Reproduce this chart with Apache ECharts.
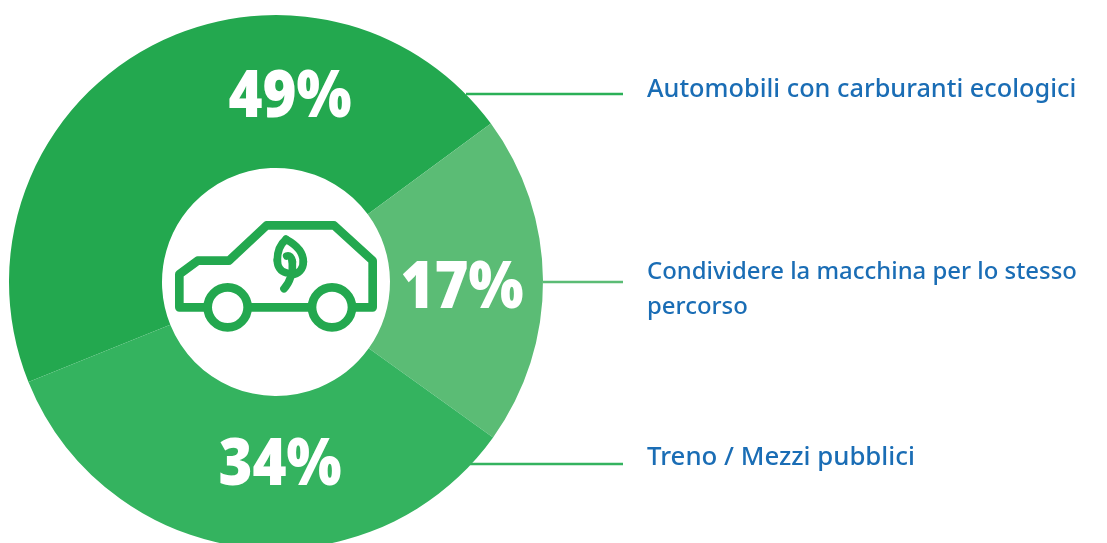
<!DOCTYPE html>
<html><head><meta charset="utf-8">
<style>html,body{margin:0;padding:0;background:#fff}#c{width:1107px;height:543px}</style>
<script src="https://cdn.jsdelivr.net/npm/echarts@6/dist/echarts.min.js"></script>
</head><body><div id="c"></div>
<script>
const categories = ['Automobili con carburanti ecologici', 'Condividere la macchina per lo stesso\npercorso', 'Treno / Mezzi pubblici'];
const printedLabels = ['49%', '17%', '34%'];
const sliceShares = [46, 20, 34];
const sliceColors = ['#23a84f', '#5bbc75', '#34b35f'];
const labelPos = [[290, 98], [462, 289], [280, 466]];
const legendPos = [[647, 90], [647, 290], [647, 458]];
const legendSize = [25.3, 23.9, 25.8];
const leaderLines = [[466, 94, 623, 94, '#2bb057'], [543, 282, 623, 282, '#5bbc75'], [470, 464, 623, 464, '#34b35f']];
const green = '#23a84f';

const chart = echarts.init(document.getElementById('c'), null, {renderer: 'canvas'});
const iconStroke = {stroke: green, lineWidth: 26, fill: 'none', lineJoin: 'round', lineCap: 'round'};
const leafStroke = {...iconStroke, lineWidth: 23};
const poly = pts => ({type: 'polyline', z: 100, shape: {points: pts}, style: iconStroke});
const curve = (a, b, c, d) => ({type: 'bezierCurve', z: 100, shape: {x1: a[0], y1: a[1], cpx1: b[0], cpy1: b[1], cpx2: c[0], cpy2: c[1], x2: d[0], y2: d[1]}, style: leafStroke});
const wheel = (x, y) => ({type: 'circle', z: 100, shape: {cx: x, cy: y, r: 60}, style: iconStroke});
chart.setOption({
  animation: false,
  series: [{
    type: 'pie', silent: true,
    center: [276, 282], radius: [114, 267],
    startAngle: 202, clockwise: true,
    label: {show: false}, labelLine: {show: false},
    data: categories.map((name, i) => ({name, value: sliceShares[i], itemStyle: {color: sliceColors[i]}}))
  }],
  graphic: [
    ...leaderLines.map(l => ({type: 'line', z: 100, shape: {x1: l[0], y1: l[1], x2: l[2], y2: l[3]}, style: {stroke: l[4], lineWidth: 2.5}})),
    ...printedLabels.map((t, i) => ({type: 'text', z: 100, x: labelPos[i][0], y: labelPos[i][1], scaleX: 0.88,
      style: {text: t, fill: '#fff', font: '800 66px "Open Sans", sans-serif', align: 'center', verticalAlign: 'middle'}})),
    ...categories.map((t, i) => ({type: 'text', z: 100, x: legendPos[i][0], y: legendPos[i][1],
      style: {text: t, fill: '#1a6db5', font: '500 ' + legendSize[i] + 'px "Noto Sans", sans-serif', align: 'left', verticalAlign: 'middle', lineHeight: 35}})),
    {type: 'group', x: 150, y: 150, scaleX: 1/3, scaleY: 1/3, children: [
      poly([[165,472],[88,472],[88,373],[143,332],[237,332],[350,226],[552,226],[668,332],[668,472],[615,472]]),
      poly([[305,472],[478,472]]),
      wheel(233,472), wheel(546,472),
      curve([408,268],[440,285],[460,308],[460,335]),
      curve([460,335],[460,358],[445,372],[425,374]),
      curve([408,268],[388,285],[382,308],[382,330]),
      curve([382,330],[382,350],[392,365],[408,368]),
      curve([402,416],[420,398],[430,365],[427,335]),
      curve([427,335],[425,322],[418,315],[410,318])
    ]}
  ]
});
</script></body></html>
